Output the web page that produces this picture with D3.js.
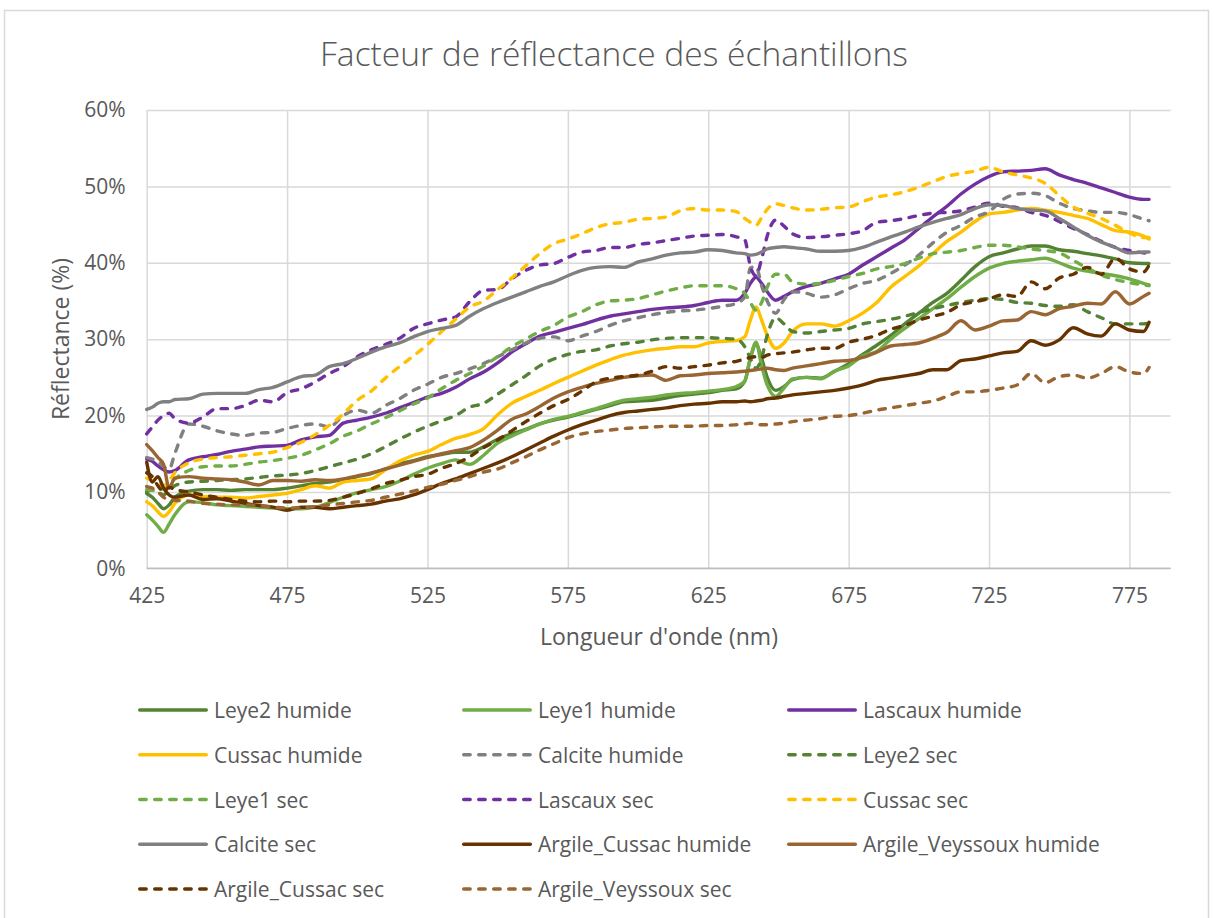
<!DOCTYPE html>
<html>
<head>
<meta charset="utf-8">
<script src="https://cdn.jsdelivr.net/npm/d3@7/dist/d3.min.js"></script>
<style>
  html, body { margin: 0; padding: 0; background: #ffffff; }
  svg text { font-family: "Open Sans", "Noto Sans", "DejaVu Sans", sans-serif; fill: #595959; }
</style>
</head>
<body>
<svg id="chart" width="1214" height="918"></svg>
<script>
// Wavelength samples (nm) shared by every series
const wavelengths = [425,427,429,431,433,435,440,445,450,455,460,465,470,475,480,485,490,495,500,505,510,515,520,525,
  530,535,540,545,550,555,560,565,570,575,580,585,590,595,600,605,610,615,620,625,630,635,
  638,640,642,644,646,649,652,
  655,660,665,670,675,680,685,690,695,700,705,710,715,720,725,730,735,740,745,750,755,760,765,770,775,780,782];

// Reflectance values (%) per sample
const leye2Humide = [9.8,9.3,8.5,7.8,8.3,9.3,10.1,10.3,10.3,10.2,10.3,10.3,10.3,10.5,10.8,11.1,11.3,11.6,12.0,12.4,13.0,13.7,14.1,14.6,
  14.9,15.2,15.2,15.9,16.9,17.6,18.2,18.9,19.4,19.8,20.3,20.8,21.3,21.8,21.9,22.0,22.3,22.6,22.8,23.0,23.3,23.5,
  24.5,27.5,29.3,27.5,25.0,23.3,23.8,
  24.7,25.0,24.9,25.8,26.8,28.0,29.2,30.5,32.0,33.4,34.8,36.0,37.7,39.5,40.8,41.3,41.8,42.2,42.2,41.7,41.5,41.2,40.9,40.5,40.0,39.9,39.9];
const leye1Humide = [7.0,6.3,5.5,4.7,5.8,7.0,8.7,8.6,8.3,8.2,8.1,8.0,7.9,7.8,7.8,8.0,8.6,9.3,9.9,10.3,10.7,11.4,12.3,13.1,
  13.7,14.2,13.6,14.8,16.4,17.3,18.1,18.9,19.5,19.9,20.4,20.9,21.5,22.0,22.2,22.4,22.7,22.9,23.0,23.2,23.4,23.8,
  24.5,27.5,29.6,26.5,24.0,22.5,23.6,
  24.8,25.0,24.8,25.8,26.5,27.8,28.4,30.0,31.4,32.7,34.0,35.3,36.8,38.2,39.3,39.9,40.2,40.4,40.6,40.0,39.3,38.9,38.6,38.3,37.9,37.3,37.1];
const lascauxHumide = [14.3,14.0,13.4,12.9,12.6,12.8,14.2,14.6,14.9,15.3,15.6,15.9,16.0,16.1,16.8,17.2,17.4,19.0,19.4,19.8,20.3,21.0,21.7,22.4,
  22.9,23.7,24.8,25.7,26.9,28.3,29.4,30.4,30.9,31.4,31.9,32.5,33.0,33.3,33.6,33.9,34.1,34.2,34.4,34.8,35.1,35.1,
  36.0,37.3,38.1,37.3,36.2,35.1,35.6,
  36.2,36.9,37.3,37.9,38.5,39.7,40.8,41.9,43.0,44.5,46.0,47.4,49.0,50.3,51.3,51.9,52.0,52.1,52.3,51.5,50.9,50.4,49.8,49.2,48.6,48.3,48.3];
const cussacHumide = [8.7,8.2,7.4,6.8,7.4,8.5,9.6,9.4,9.3,9.3,9.2,9.4,9.6,9.8,10.3,10.8,10.5,11.3,11.5,11.7,12.9,14.0,14.8,15.3,
  16.2,17.0,17.5,18.3,20.1,21.6,22.5,23.3,24.2,25.0,25.8,26.6,27.3,27.9,28.3,28.6,28.8,29.0,29.0,29.5,29.7,29.8,
  30.3,32.5,34.2,32.5,30.5,28.8,29.5,
  31.0,32.0,32.0,31.7,32.4,33.4,34.8,36.8,38.2,39.6,41.2,42.8,44.0,45.4,46.4,46.6,46.9,47.1,46.9,46.6,46.2,45.8,45.0,44.2,44.0,43.5,43.1];
const calciteHumide = [14.5,14.3,14.0,13.3,13.0,15.0,18.9,18.6,18.0,17.6,17.4,17.7,17.8,18.3,18.7,18.9,18.5,20.0,20.7,20.3,21.3,22.2,23.3,24.1,
  25.0,25.5,26.1,26.8,27.7,28.6,29.5,30.1,30.3,29.8,30.4,31.0,31.8,32.4,32.8,33.2,33.5,33.7,33.8,34.0,34.3,34.7,
  35.5,39.3,39.5,37.0,35.0,33.4,35.2,
  36.2,36.0,35.5,35.8,36.6,37.3,37.7,38.6,39.7,41.0,42.6,44.0,44.9,46.0,46.7,48.3,49.0,49.1,48.8,47.8,47.1,46.8,46.6,46.6,46.3,45.7,45.5];
const leye2Sec = [10.0,10.3,10.0,9.6,10.2,10.8,11.3,11.4,11.5,11.6,11.7,11.9,12.1,12.2,12.4,12.8,13.3,13.8,14.3,15.0,15.9,16.9,17.8,18.6,
  19.3,20.0,21.1,21.6,22.8,24.0,25.2,26.5,27.4,28.0,28.4,28.6,29.1,29.4,29.6,29.9,30.1,30.2,30.2,30.2,30.1,30.0,
  29.0,27.5,26.2,27.5,30.5,32.8,32.0,
  31.0,30.8,31.0,31.2,31.4,32.0,32.3,32.6,33.0,33.5,34.0,34.4,34.8,35.1,35.3,35.2,34.8,34.7,34.4,34.3,34.5,33.6,32.8,32.0,32.0,32.0,32.1];
const leye1Sec = [10.3,10.2,10.2,10.5,11.0,11.7,12.8,13.3,13.4,13.4,13.6,13.9,14.1,14.4,14.8,15.5,16.3,17.3,18.0,18.9,19.7,20.6,21.5,22.3,
  23.5,24.6,25.5,26.5,27.7,29.0,30.0,31.0,31.8,32.9,33.6,34.5,35.0,35.1,35.3,35.8,36.3,36.7,37.0,37.0,37.0,36.6,
  36.0,34.8,33.8,34.8,36.8,38.5,38.5,
  37.5,37.2,37.3,37.7,38.2,38.6,39.2,39.5,39.9,40.6,41.2,41.4,41.6,42.0,42.3,42.3,42.1,41.8,41.6,41.3,40.3,39.3,38.4,37.8,37.4,37.1,37.0];
const lascauxSec = [17.6,18.5,19.4,20.0,20.3,19.6,19.0,19.8,20.9,20.9,21.3,22.0,21.8,23.0,23.5,24.4,25.5,26.4,27.7,28.6,29.3,30.1,31.4,32.0,
  32.5,32.9,34.9,36.4,36.5,37.9,39.0,39.7,39.9,40.7,41.4,41.6,42.0,42.0,42.4,42.6,42.9,43.2,43.5,43.6,43.7,43.4,
  43.0,39.5,38.3,40.5,43.5,45.6,44.8,
  43.8,43.3,43.4,43.6,43.8,44.2,45.3,45.5,45.8,46.2,46.5,46.6,46.8,47.3,47.8,47.4,47.2,46.6,46.2,45.4,44.5,43.7,42.8,42.0,41.6,41.3,41.2];
const cussacSec = [11.8,11.5,11.0,10.8,11.5,12.5,13.8,14.3,14.5,14.6,14.8,15.0,15.2,15.8,16.5,17.5,18.7,20.2,22.0,23.2,24.9,26.4,27.8,29.3,
  31.0,32.6,34.2,35.0,36.5,38.0,39.6,41.2,42.5,43.1,43.8,44.6,45.1,45.3,45.7,45.8,46.0,46.8,47.1,46.9,46.9,46.7,
  45.8,45.3,44.9,45.9,47.0,47.7,47.5,
  47.2,46.9,47.0,47.2,47.3,48.0,48.6,48.9,49.3,49.9,50.6,51.3,51.7,52.0,52.5,51.9,51.5,51.1,50.4,48.8,47.3,46.5,45.8,44.9,43.9,43.3,43.3];
const calciteSec = [20.8,21.1,21.6,21.8,21.8,22.1,22.2,22.8,22.9,22.9,22.9,23.4,23.7,24.4,25.1,25.3,26.4,26.8,27.5,28.3,29.0,29.5,30.3,31.0,
  31.4,31.8,33.0,34.0,34.8,35.5,36.2,36.9,37.5,38.3,39.0,39.4,39.5,39.4,40.1,40.5,41.0,41.3,41.4,41.7,41.6,41.3,
  41.2,41.0,41.1,41.4,41.8,42.0,42.1,
  42.0,41.8,41.5,41.5,41.6,42.0,42.7,43.4,44.0,44.7,45.3,45.8,46.3,47.1,47.6,47.5,47.1,46.9,46.8,45.8,44.7,43.6,42.7,42.0,41.3,41.4,41.4];
const argileCussacHumide = [13.9,11.3,12.0,10.5,9.6,9.3,9.6,9.0,9.1,8.8,8.5,8.2,8.0,7.6,8.0,8.0,7.8,8.0,8.2,8.4,8.8,9.1,9.6,10.3,
  11.1,11.7,12.4,13.1,13.8,14.6,15.5,16.4,17.3,18.1,18.8,19.4,20.0,20.4,20.6,20.8,21.0,21.3,21.5,21.6,21.8,21.8,
  21.9,21.8,21.9,22.0,22.2,22.3,22.5,
  22.7,22.9,23.1,23.3,23.6,24.0,24.6,24.9,25.2,25.5,26.0,26.0,27.2,27.4,27.8,28.2,28.4,29.8,29.2,29.9,31.5,30.7,30.4,32.0,31.2,31.0,32.2];
const argileVeyssouxHumide = [16.2,15.4,14.5,13.6,10.5,11.8,12.0,11.8,11.7,11.6,11.3,10.9,11.5,11.5,11.4,11.6,11.5,11.7,12.1,12.5,13.0,13.5,14.0,14.5,
  15.0,15.4,15.8,16.8,18.1,19.5,20.2,21.2,22.3,23.1,23.7,24.2,24.6,25.0,25.2,25.3,24.6,25.2,25.3,25.5,25.6,25.7,
  25.8,25.9,26.0,26.1,26.2,26.0,25.9,
  26.2,26.5,26.8,27.1,27.2,27.6,28.3,29.1,29.3,29.5,30.1,30.9,32.4,31.2,31.7,32.4,32.5,33.6,33.2,34.0,34.3,34.7,34.6,36.2,34.6,35.6,36.0];
const argileCussacSec = [12.5,12.0,10.8,10.0,10.6,10.3,10.0,9.6,9.3,9.0,8.8,8.7,8.8,8.7,8.8,8.8,8.9,9.3,9.8,10.4,11.1,11.5,12.0,12.3,
  13.1,13.7,14.6,15.8,16.8,18.0,19.2,20.3,21.3,22.1,23.2,24.4,24.9,25.1,25.3,25.8,26.4,26.2,26.4,26.6,26.9,27.1,
  27.4,27.6,27.7,27.6,27.9,28.1,28.2,
  28.3,28.6,28.8,28.8,29.6,30.0,30.5,31.3,31.8,32.5,33.0,33.5,34.5,34.9,35.3,35.8,35.6,37.5,36.6,38.0,38.5,39.4,38.5,40.6,39.2,38.8,39.7];
const argileVeyssouxSec = [10.7,10.5,10.0,9.3,9.0,8.9,8.8,8.5,8.4,8.3,8.3,8.2,8.0,7.9,7.9,8.1,8.3,8.5,8.7,8.9,9.3,9.7,10.1,10.6,
  11.0,11.5,12.0,12.6,13.0,13.8,14.6,15.5,16.3,17.1,17.6,17.9,18.1,18.3,18.4,18.5,18.6,18.6,18.6,18.7,18.7,18.8,
  18.9,19.0,18.8,18.8,18.8,18.9,19.0,
  19.2,19.4,19.6,19.9,20.0,20.3,20.7,21.0,21.3,21.6,21.9,22.5,23.1,23.1,23.3,23.6,24.0,25.5,24.3,25.1,25.3,24.9,25.5,26.4,25.7,25.5,26.3];

// Series names, in legend order
const seriesNames = ["Leye2 humide","Leye1 humide","Lascaux humide","Cussac humide","Calcite humide","Leye2 sec",
  "Leye1 sec","Lascaux sec","Cussac sec","Calcite sec","Argile_Cussac humide","Argile_Veyssoux humide",
  "Argile_Cussac sec","Argile_Veyssoux sec"];
const seriesValues = [leye2Humide, leye1Humide, lascauxHumide, cussacHumide, calciteHumide, leye2Sec,
  leye1Sec, lascauxSec, cussacSec, calciteSec, argileCussacHumide, argileVeyssouxHumide,
  argileCussacSec, argileVeyssouxSec];

// Axis ticks
const xTicks = [425,475,525,575,625,675,725,775];
const yTicks = [0,10,20,30,40,50,60];

// Styling per series
const seriesColors = ["#548235","#70AD47","#7030A0","#FFC000","#808080","#548235",
  "#70AD47","#7030A0","#FFC000","#808080","#663300","#996633","#663300","#996633"];
const seriesDashed = [false,false,false,false,true,true,true,true,true,false,false,false,true,true];

seriesValues.forEach((v, i) => {
  if (v.length !== wavelengths.length) throw new Error(seriesNames[i] + " has " + v.length + " values");
});

const svg = d3.select("#chart");
const plot = { left: 146.7, right: 1170.7, top: 110, bottom: 568.3 };
const lineWidth = 3.4;
const dashPattern = "6.5,8.5";

const x = d3.scaleLinear().domain([425, 789.7]).range([plot.left, plot.right]);
const y = d3.scaleLinear().domain([0, 60]).range([plot.bottom, plot.top]);

// Chart frame
svg.append("rect")
  .attr("x", 4.5).attr("y", 10.5).attr("width", 1204).attr("height", 930)
  .attr("fill", "#ffffff").attr("stroke", "#d9d9d9").attr("stroke-width", 1.5);

// Title
svg.append("text")
  .attr("x", 614).attr("y", 66)
  .attr("text-anchor", "middle")
  .attr("font-size", 33)
  .attr("font-weight", 300)
  .attr("textLength", 588)
  .attr("lengthAdjust", "spacingAndGlyphs")
  .text("Facteur de réflectance des échantillons");

// Horizontal grid + y tick labels
const yAxis = d3.axisLeft(y)
  .tickValues(yTicks)
  .tickFormat(d => d + "%")
  .tickSize(-(plot.right - plot.left))
  .tickPadding(21);
const gy = svg.append("g").attr("transform", `translate(${plot.left},0)`).call(yAxis);
gy.select(".domain").remove();
gy.selectAll(".tick line").attr("stroke", "#d9d9d9").attr("stroke-width", 1.5);
gy.selectAll(".tick text").attr("font-size", 21).attr("fill", "#595959");

// Vertical grid + x tick labels
const xAxis = d3.axisBottom(x)
  .tickValues(xTicks)
  .tickFormat(d3.format("d"))
  .tickSize(-(plot.bottom - plot.top))
  .tickPadding(20);
const gx = svg.append("g").attr("transform", `translate(0,${plot.bottom})`).call(xAxis);
gx.select(".domain").remove();
gx.selectAll(".tick line").attr("stroke", "#d9d9d9").attr("stroke-width", 1.5);
gx.selectAll(".tick text").attr("font-size", 21).attr("fill", "#595959");

// Category axis line
svg.append("line")
  .attr("x1", plot.left).attr("x2", plot.right)
  .attr("y1", y(0)).attr("y2", y(0))
  .attr("stroke", "#bfbfbf").attr("stroke-width", 1.5);

// Axis titles
svg.append("text")
  .attr("x", 659).attr("y", 645)
  .attr("text-anchor", "middle")
  .attr("font-size", 23)
  .text("Longueur d'onde (nm)");
svg.append("text")
  .attr("transform", "translate(69,339) rotate(-90)")
  .attr("text-anchor", "middle")
  .attr("font-size", 23)
  .text("Réflectance (%)");

// Series lines
const line = d3.line()
  .x((d, i) => x(wavelengths[i]))
  .y(d => y(d))
  .curve(d3.curveMonotoneX);

const gLines = svg.append("g");
seriesValues.forEach((vals, i) => {
  gLines.append("path")
    .attr("d", line(vals))
    .attr("fill", "none")
    .attr("stroke", seriesColors[i])
    .attr("stroke-width", lineWidth)
    .attr("stroke-linejoin", "round")
    .attr("stroke-linecap", "round")
    .attr("stroke-dasharray", seriesDashed[i] ? dashPattern : null);
});

// Legend: three columns, row-major
const legendCols = [138, 462, 787];
const legendRow0 = 710, legendRowStep = 44.75, legendSwatch = 70;
const gLegend = svg.append("g");
seriesNames.forEach((name, i) => {
  const cx = legendCols[i % 3];
  const cy = legendRow0 + Math.floor(i / 3) * legendRowStep;
  gLegend.append("line")
    .attr("x1", cx + 1.7).attr("x2", cx + legendSwatch - 1.7)
    .attr("y1", cy).attr("y2", cy)
    .attr("stroke", seriesColors[i])
    .attr("stroke-width", lineWidth)
    .attr("stroke-linecap", "round")
    .attr("stroke-dasharray", seriesDashed[i] ? dashPattern : null);
  gLegend.append("text")
    .attr("x", cx + legendSwatch + 6).attr("y", cy)
    .attr("dominant-baseline", "central")
    .attr("font-size", 21)
    .text(name);
});
</script>
</body>
</html>
